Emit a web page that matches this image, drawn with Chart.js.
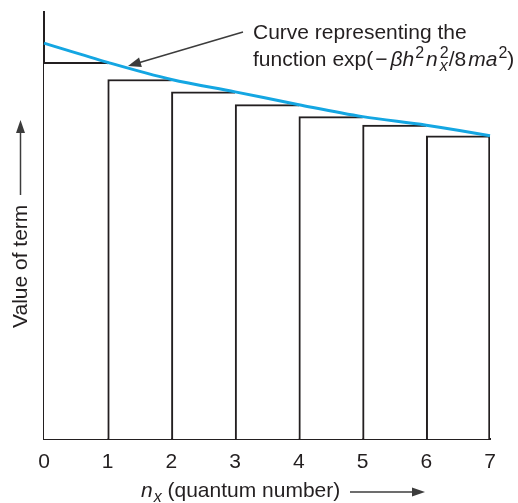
<!DOCTYPE html>
<html>
<head>
<meta charset="utf-8">
<script src="https://cdn.jsdelivr.net/npm/chart.js@4.4.1/dist/chart.umd.min.js"></script>
<style>
  body { margin: 0; background: #fff; }
  canvas { display: block; }
</style>
</head>
<body>
<canvas id="term_chart" width="518" height="503"></canvas>
<script>
// quantum numbers on the axis
const nxTicks = [0, 1, 2, 3, 4, 5, 6, 7];
// smooth curve exp(-b h^2 nx^2 / 8ma^2), arbitrary units
const curveX = [0, 1, 2, 3, 4, 5, 6, 7, 7.22];
const curveY = [9.27, 8.82, 8.42, 8.13, 7.83, 7.55, 7.35, 7.10, 7.03];
// one rectangle per term, from n-1 to n, height = term value at n
const termN = [1, 2, 3, 4, 5, 6, 7];
const termValues = [8.82, 8.42, 8.13, 7.83, 7.55, 7.35, 7.10];

const ink = "#231f20";
const arrowInk = "#3c3c3c";
const FONT = "'Liberation Sans', Arial, Helvetica, sans-serif";

function arrow(ctx, x1, y1, x2, y2, head, wide) {
  const a = Math.atan2(y2 - y1, x2 - x1);
  ctx.beginPath();
  ctx.moveTo(x1, y1);
  ctx.lineTo(x2 - Math.cos(a) * head * 0.8, y2 - Math.sin(a) * head * 0.8);
  ctx.stroke();
  ctx.beginPath();
  ctx.moveTo(x2, y2);
  ctx.lineTo(x2 - Math.cos(a) * head - Math.sin(a) * wide, y2 - Math.sin(a) * head + Math.cos(a) * wide);
  ctx.lineTo(x2 - Math.cos(a) * head + Math.sin(a) * wide, y2 - Math.sin(a) * head - Math.cos(a) * wide);
  ctx.closePath();
  ctx.fill();
}

// draws pieces of text one after another: [text, italic, size, dy, gapAfter, noAdvance]
function runs(ctx, x, y, parts) {
  for (const p of parts) {
    ctx.font = (p[1] ? "italic " : "") + p[2] + "px " + FONT;
    ctx.fillText(p[0], x, y + p[3]);
    if (!p[5]) x += ctx.measureText(p[0]).width + (p[4] || 0);
  }
  return x;
}

const labelsPlugin = {
  id: "labels",
  afterDraw(chart) {
    const ctx = chart.ctx;
    ctx.save();
    ctx.fillStyle = ink;
    ctx.strokeStyle = arrowInk;
    ctx.lineWidth = 1.5;
    ctx.textBaseline = "alphabetic";
    ctx.textAlign = "left";

    // callout for the curve
    ctx.font = "21px " + FONT;
    ctx.fillText("Curve representing the", 253, 39);
    runs(ctx, 253, 66, [
      ["function exp(", false, 21, 0, 2],
      ["\u2212", false, 21, 0, 3],
      ["\u03b2", true, 21, 0, 0],
      ["h", true, 21, 0, 1],
      ["2", false, 16, -8, 2],
      ["n", true, 21, 0, 2],
      ["2", false, 16, -8, 0, true],
      ["x", true, 16, 5, 1],
      ["/8", false, 21, 0, 2],
      ["m", true, 21, 0, 0],
      ["a", true, 21, 0, 1],
      ["2", false, 16, -8, 0],
      [")", false, 21, 0, 0],
    ]);
    ctx.fillStyle = arrowInk;
    arrow(ctx, 243, 32, 128, 66, 13, 5);

    // x axis title
    ctx.fillStyle = ink;
    runs(ctx, 141, 497, [
      ["n", true, 21, 0, 1],
      ["x", true, 16, 5, 0],
      [" (quantum number)", false, 21, 0, 0],
    ]);
    ctx.fillStyle = arrowInk;
    arrow(ctx, 350, 492, 425, 492, 13, 4.5);

    // y axis title
    ctx.save();
    ctx.translate(27, 328);
    ctx.rotate(-Math.PI / 2);
    ctx.fillStyle = ink;
    ctx.font = "21px " + FONT;
    ctx.fillText("Value of term", 0, 0);
    ctx.restore();
    ctx.fillStyle = arrowInk;
    arrow(ctx, 20.5, 195, 20.5, 120, 13, 4.5);

    ctx.restore();
  },
};

let context = document.querySelector("#term_chart").getContext("2d");
new Chart(context, {
  type: "bar",
  data: {
    datasets: [
      {
        type: "line",
        order: 0,
        data: curveX.map((x, i) => ({ x: x, y: curveY[i] })),
        borderColor: "#14a6e2",
        borderWidth: 3,
        pointRadius: 0,
        cubicInterpolationMode: "monotone",
        clip: false,
      },
      {
        order: 1,
        data: termN.map((n, i) => ({ x: n - 0.5, y: termValues[i] })),
        backgroundColor: "#ffffff",
        borderColor: ink,
        borderWidth: (c) => ({
          top: 2,
          bottom: 0,
          left: c.dataIndex === 0 ? 0 : 2,
          right: c.dataIndex === termN.length - 1 ? 2 : 0,
        }),
        borderSkipped: false,
        barPercentage: 1,
        categoryPercentage: 1,
      },
    ],
  },
  options: {
    responsive: false,
    animation: false,
    layout: { padding: { top: 12, right: 28, left: 0, bottom: 0 } },
    scales: {
      x: {
        type: "linear",
        min: 0,
        max: 7,
        offset: false,
        grid: { display: false, drawTicks: false, offset: false },
        border: { display: true, color: ink, width: 2 },
        afterBuildTicks: (scale) => {
          scale.ticks = nxTicks.map((v) => ({ value: v }));
        },
        afterFit: (scale) => {
          scale.height = 64;
        },
        ticks: {
          color: ink,
          padding: 11,
          maxRotation: 0,
          autoSkip: false,
          font: { family: FONT, size: 21 },
        },
      },
      y: {
        min: 0,
        max: 10,
        grid: { display: false, drawTicks: false },
        border: { display: true, color: ink, width: 2 },
        ticks: { display: false },
        afterFit: (scale) => {
          scale.width = 44;
        },
      },
    },
    plugins: {
      legend: { display: false },
      tooltip: { enabled: false },
    },
  },
  plugins: [labelsPlugin],
});
</script>
</body>
</html>
